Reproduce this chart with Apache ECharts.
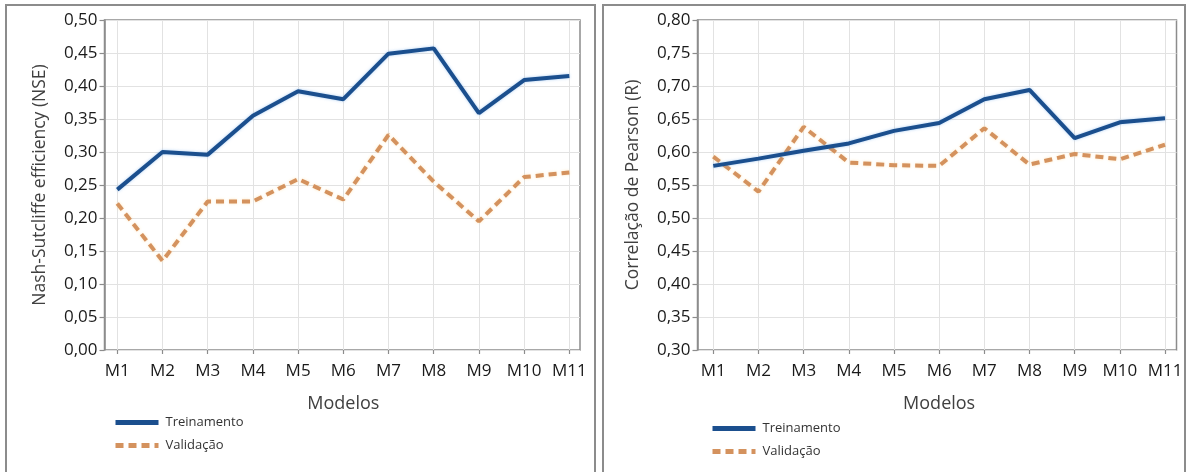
<!DOCTYPE html>
<html>
<head>
<meta charset="utf-8">
<script src="https://cdn.jsdelivr.net/npm/echarts@6/dist/echarts.min.js"></script>
<style>
  html, body { margin: 0; padding: 0; background: #fff; }
  #wrap { position: relative; width: 1190px; height: 472px; overflow: hidden; background: #fff; }
  .frame { position: absolute; border: 2px solid #8c8c8c; box-sizing: border-box; }
  #chart { position: absolute; left: 0; top: 0; width: 1190px; height: 472px; }
</style>
</head>
<body>
<div id="wrap">
  <div class="frame" style="left:5px; top:4px; width:591px; height:490px;"></div>
  <div class="frame" style="left:602px; top:4px; width:584px; height:490px;"></div>
  <div id="chart"></div>
</div>
<script>
// ---- data ----
const models = ['M1','M2','M3','M4','M5','M6','M7','M8','M9','M10','M11'];
const seriesNames = ['Treinamento', 'Validação'];
const nseTrain = [0.243, 0.300, 0.296, 0.355, 0.392, 0.380, 0.449, 0.457, 0.359, 0.409, 0.415];
const nseValid = [0.222, 0.135, 0.225, 0.225, 0.259, 0.228, 0.326, 0.255, 0.195, 0.262, 0.269];
const rTrain = [0.579, 0.590, 0.602, 0.613, 0.632, 0.644, 0.680, 0.694, 0.621, 0.645, 0.651];
const rValid = [0.593, 0.540, 0.638, 0.584, 0.580, 0.579, 0.636, 0.581, 0.597, 0.589, 0.611];
const nseTicks = { min: 0.00, max: 0.50, step: 0.05 };
const rTicks = { min: 0.30, max: 0.80, step: 0.05 };
const nseTitle = 'Nash-Sutcliffe efficiency (NSE)';
const rTitle = 'Correlação de Pearson (R)';
const xTitle = 'Modelos';

// ---- styles ----
const FONT = '"Open Sans", "Noto Sans", sans-serif';
const BLUE = '#1b4f8e';
const ORANGE = '#d4925e';
const AXIS_GRAY = '#8c8c8c';
const GRID_GRAY = '#e2e2e2';
const fmt = v => v.toFixed(2).replace('.', ',');

const chart = echarts.init(document.getElementById('chart'), null, { renderer: 'canvas' });

function panel(frameLeft, frameRight, dataLeft, dataRight, ticks, title, gi) {
  const top = 20, height = 330;
  const grids = [
    { left: frameLeft, top: top, width: frameRight - frameLeft, height: height,
      show: true, borderColor: AXIS_GRAY, borderWidth: 1.5, backgroundColor: 'transparent' },
    { left: dataLeft, top: top, width: dataRight - dataLeft, height: height }
  ];
  const xAxes = [
    { gridIndex: gi, type: 'value', min: 0, max: 1, show: false },
    { gridIndex: gi + 1, type: 'category', data: models, boundaryGap: false,
      axisLine: { show: false },
      axisTick: { show: true, length: 4, inside: false, lineStyle: { color: AXIS_GRAY, width: 1.2 } },
      axisLabel: { fontFamily: FONT, fontSize: 17, color: '#1a1a1a', margin: 13 },
      splitLine: { show: true, lineStyle: { color: GRID_GRAY, width: 1 } },
      name: xTitle, nameLocation: 'middle', nameGap: 45,
      nameTextStyle: { fontFamily: FONT, fontSize: 18, color: '#404040' } }
  ];
  const yAxes = [
    { gridIndex: gi, type: 'value', min: ticks.min, max: ticks.max, interval: ticks.step,
      axisLine: { show: true, lineStyle: { color: AXIS_GRAY, width: 1.5 } },
      axisTick: { show: true, length: 5, lineStyle: { color: AXIS_GRAY, width: 1.2 } },
      axisLabel: { fontFamily: FONT, fontSize: 17, color: '#1a1a1a', margin: 7, formatter: fmt },
      splitLine: { show: true, lineStyle: { color: GRID_GRAY, width: 1 } },
      name: title, nameLocation: 'middle', nameGap: 55, nameRotate: 90,
      nameTextStyle: { fontFamily: FONT, fontSize: 17.5, color: '#404040' } },
    { gridIndex: gi + 1, type: 'value', min: ticks.min, max: ticks.max, show: false }
  ];
  return { grids, xAxes, yAxes };
}

function lineSeries(name, data, xi, yi) {
  const isTrain = name === seriesNames[0];
  return {
    name: name, type: 'line', data: data, xAxisIndex: xi, yAxisIndex: yi,
    symbol: 'none', showSymbol: false, smooth: false, z: isTrain ? 4 : 3,
    lineStyle: isTrain
      ? { color: BLUE, width: 4, shadowColor: 'rgba(110,170,235,0.55)', shadowBlur: 3 }
      : { color: ORANGE, width: 4, type: [8, 5], shadowColor: 'rgba(255,215,150,0.6)', shadowBlur: 3 },
    itemStyle: { color: isTrain ? BLUE : ORANGE },
    emphasis: { disabled: true },
    animation: false
  };
}

const pL = panel(104.5, 580, 117.3, 569.3, nseTicks, nseTitle, 0);
const pR = panel(697.5, 1176.5, 713.3, 1165, rTicks, rTitle, 2);

const legendCommon = {
  orient: 'vertical', itemWidth: 43, itemHeight: 12, itemGap: 10,
  data: seriesNames, selectedMode: false,
  itemStyle: { opacity: 0, borderWidth: 0 },
  lineStyle: { width: 5 },
  textStyle: { fontFamily: FONT, fontSize: 13, color: '#333', padding: [0, 0, 0, 2] }
};

chart.setOption({
  animation: false,
  backgroundColor: 'transparent',
  grid: [...pL.grids, ...pR.grids],
  xAxis: [...pL.xAxes, ...pR.xAxes],
  yAxis: [...pL.yAxes, ...pR.yAxes],
  legend: [
    Object.assign({}, legendCommon, { left: 108, top: 411 }),
    Object.assign({}, legendCommon, { left: 705, top: 417 })
  ],
  series: [
    lineSeries(seriesNames[0], nseTrain, 1, 1),
    lineSeries(seriesNames[1], nseValid, 1, 1),
    lineSeries(seriesNames[0], rTrain, 3, 3),
    lineSeries(seriesNames[1], rValid, 3, 3)
  ]
});
</script>
</body>
</html>
